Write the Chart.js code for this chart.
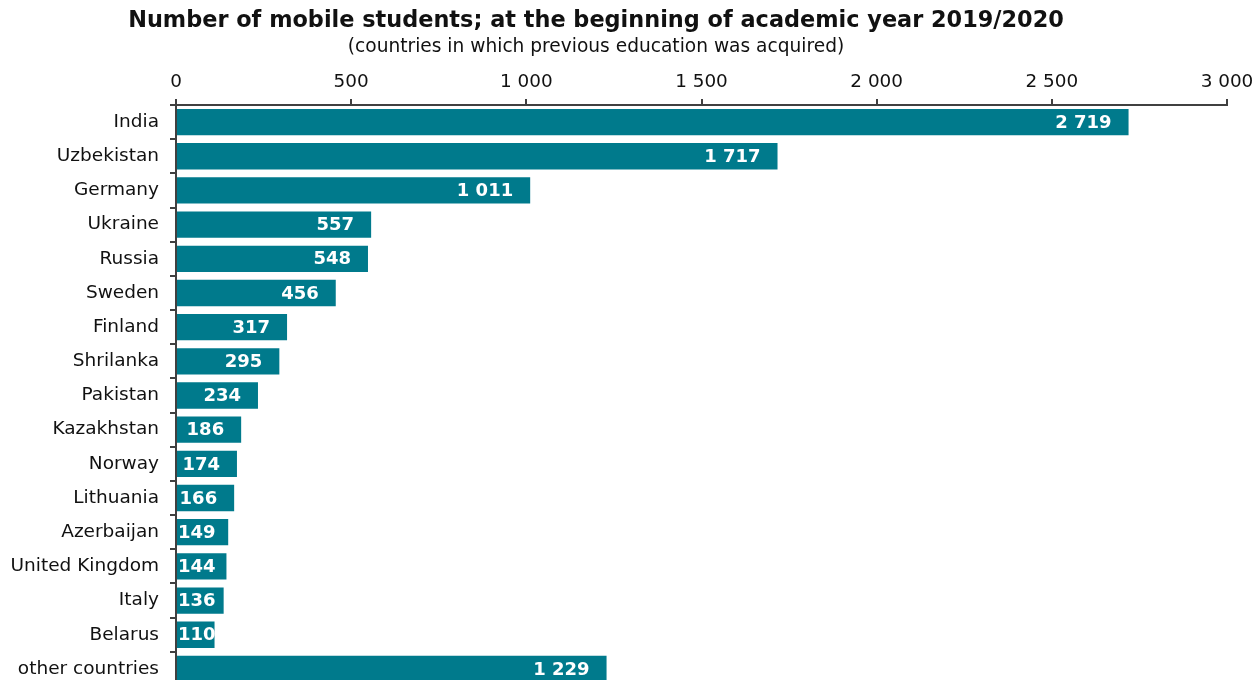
<!DOCTYPE html>
<html lang="en">
<head>
<meta charset="UTF-8">
<title>Mobile students</title>
<script src="https://cdn.jsdelivr.net/npm/chart.js@4.4.1/dist/chart.umd.min.js"></script>
<style>
    html, body { margin: 0; padding: 0; background: #fff; overflow: hidden; }
    canvas { display: block; }
</style>
</head>
<body>
<canvas id="studentsChart" width="1256" height="686"></canvas>
<script>
    const countries = ['India', 'Uzbekistan', 'Germany', 'Ukraine', 'Russia', 'Sweden', 'Finland',
        'Shrilanka', 'Pakistan', 'Kazakhstan', 'Norway', 'Lithuania', 'Azerbaijan',
        'United Kingdom', 'Italy', 'Belarus', 'other countries'];
    const students = [2719, 1717, 1011, 557, 548, 456, 317, 295, 234, 186, 174, 166, 149, 144, 136, 110, 1229];
    const xTicks = [0, 500, 1000, 1500, 2000, 2500, 3000];

    const titleText = 'Number of mobile students; at the beginning of academic year 2019/2020';
    const subtitleText = '(countries in which previous education was acquired)';

    const FONT = "'DejaVu Sans', Verdana, sans-serif";
    const BAR = '#007a8c';
    const AXIS = '#404040';

    // 1 000 style grouping
    function fmt(v) {
        return String(v).replace(/\B(?=(\d{3})+(?!\d))/g, ' ');
    }

    const headerPlugin = {
        id: 'header',
        afterDraw(chart) {
            const ctx = chart.ctx;
            ctx.save();
            ctx.fillStyle = '#111';
            ctx.textAlign = 'center';
            ctx.textBaseline = 'middle';
            ctx.font = 'bold 22.4px ' + FONT;
            ctx.fillText(titleText, 596, 21);
            ctx.font = '18.6px ' + FONT;
            ctx.fillText(subtitleText, 596, 47);
            ctx.restore();
        }
    };

    const valueLabels = {
        id: 'valueLabels',
        afterDatasetsDraw(chart) {
            const ctx = chart.ctx;
            const meta = chart.getDatasetMeta(0);
            const left = chart.chartArea.left;
            ctx.save();
            ctx.font = 'bold 18px ' + FONT;
            ctx.fillStyle = '#fff';
            ctx.textBaseline = 'middle';
            ctx.textAlign = 'left';
            meta.data.forEach((bar, i) => {
                const txt = fmt(students[i]);
                const w = ctx.measureText(txt).width;
                let x = bar.x - 17 - w;
                if (x < left + 2) x = left + 2;
                ctx.fillText(txt, x, bar.y + 1);
            });
            ctx.restore();
        }
    };

    new Chart(document.getElementById('studentsChart'), {
        type: 'bar',
        data: {
            labels: countries,
            datasets: [{
                data: students,
                backgroundColor: BAR,
                borderWidth: 0,
                barPercentage: 0.77,
                categoryPercentage: 1
            }]
        },
        options: {
            indexAxis: 'y',
            responsive: false,
            animation: false,
            layout: { padding: { top: 58, right: 29, left: 0, bottom: 0 } },
            plugins: {
                legend: { display: false },
                tooltip: { enabled: false }
            },
            scales: {
                x: {
                    position: 'top',
                    min: 0,
                    max: 3000,
                    afterBuildTicks: s => { s.ticks = xTicks.map(v => ({ value: v })); },
                    afterFit: s => {
                        s.height = 47;
                        s.paddingLeft = 0;
                        s.paddingRight = 0;
                    },
                    border: { color: AXIS, width: 2 },
                    grid: { drawOnChartArea: false, drawTicks: true, tickLength: 6, color: AXIS, lineWidth: 2 },
                    ticks: {
                        color: '#111',
                        padding: 6,
                        font: { family: FONT, size: 18.4 },
                        callback: v => fmt(v)
                    }
                },
                y: {
                    afterFit: s => {
                        s.width = 176;
                        s.paddingTop = 0;
                        s.paddingBottom = 0;
                    },
                    border: { color: AXIS, width: 2 },
                    grid: { drawOnChartArea: false, drawTicks: true, tickLength: 6, offset: true, color: AXIS, lineWidth: 2 },
                    ticks: {
                        color: '#111',
                        padding: 11,
                        font: { family: FONT, size: 18.5 },
                        autoSkip: false
                    }
                }
            }
        },
        plugins: [headerPlugin, valueLabels]
    });
</script>
</body>
</html>
